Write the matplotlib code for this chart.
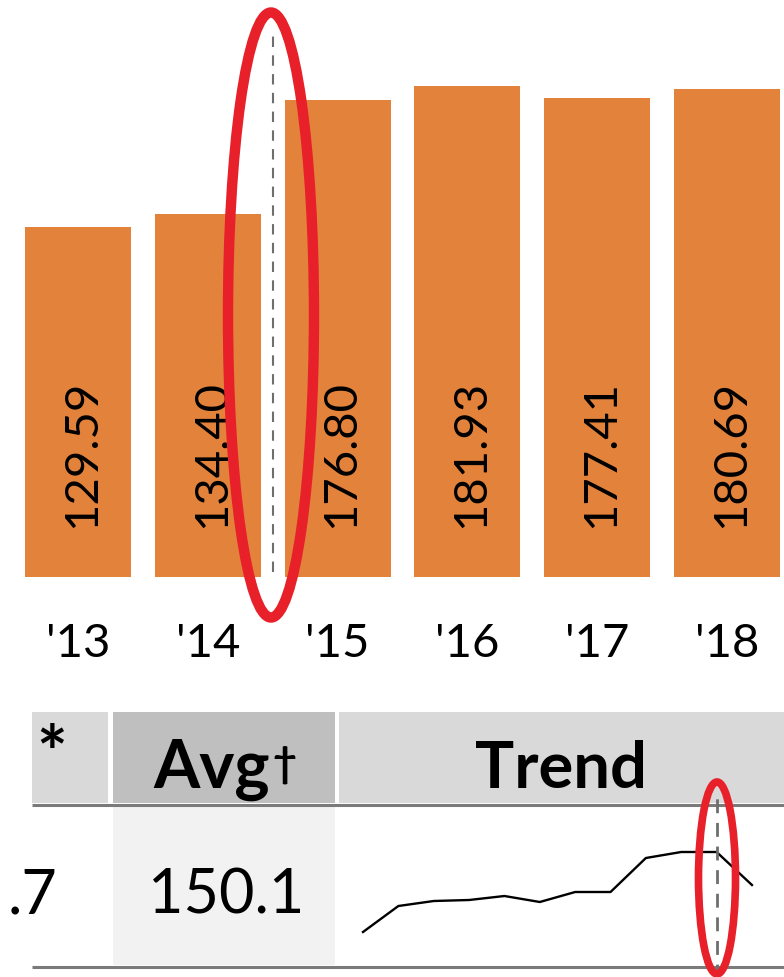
import matplotlib
matplotlib.use("Agg")
import matplotlib.pyplot as plt
from matplotlib.patches import Rectangle, Ellipse
from matplotlib.transforms import blended_transform_factory
import numpy as np

plt.rcParams['font.family'] = ['Lato', 'DejaVu Sans']

# --- data ---
years = ["'13", "'14", "'15", "'16", "'17", "'18"]
values = [129.59, 134.40, 176.80, 181.93, 177.41, 180.69]
marker_x = 1.5          # dashed divider between '14 and '15

avg_label = "150.1"
prev_col_label = ".7"
trend = [33, 59, 64, 65, 69, 63, 73, 73, 107, 113, 113, 80]
trend_marker = 10

BAR_COLOR = '#E3823B'
W, H = 784, 977

def fx(px):
    return px / W

def fy(py):
    return 1 - py / H

fig = plt.figure(figsize=(W / 100, H / 100), dpi=100)

# background / table layer in pixel coords
bg = fig.add_axes([0, 0, 1, 1], zorder=0)
bg.set_xlim(0, W)
bg.set_ylim(H, 0)
bg.axis('off')

# header cells
bg.add_patch(Rectangle((32, 712), 76, 91, color='#d9d9d9', lw=0))
bg.add_patch(Rectangle((113, 712), 222, 91, color='#bfbfbf', lw=0))
bg.add_patch(Rectangle((339, 712), 445, 91, color='#d9d9d9', lw=0))
# body avg cell
bg.add_patch(Rectangle((113, 807), 222, 158, color='#f2f2f2', lw=0))
bg.plot([32, 784], [805, 805], color='#7a7a7a', lw=2.2, solid_capstyle='butt')
bg.plot([32, 784], [967, 967], color='#7a7a7a', lw=2.2, solid_capstyle='butt')

bg.text(36, 779, "*", fontsize=52, fontweight='bold', ha='left', va='baseline')
bg.text(212, 788, "Avg", fontsize=48, fontweight='bold', ha='center', va='baseline')
# small dagger right after "Avg"
bg.text(272, 776, "\u2020", fontsize=30, fontweight='bold', ha='left', va='baseline')
bg.text(561, 788, "Trend", fontsize=47, fontweight='bold', ha='center', va='baseline')
bg.text(226, 913, avg_label, fontsize=44, ha='center', va='baseline')
bg.text(57, 913, prev_col_label, fontsize=44, ha='right', va='baseline')

# --- bar chart ---
ax = fig.add_axes([0, fy(577), 1, 577 / H], zorder=1)
ax.patch.set_alpha(0)
x = np.arange(len(values))
ax.bar(x, values, width=0.817, color=BAR_COLOR)
ax.set_xlim(-0.601, 5.439)
ax.set_ylim(0, 577 / 2.7)
ax.axis('off')

for xi, v in zip(x, values):
    ax.text(xi, 18.1, f"{v:.2f}", rotation=90, rotation_mode='anchor',
            ha='left', va='center_baseline', fontsize=34)

trans = blended_transform_factory(ax.transData, fig.transFigure)
for xi, lab in zip(x, years):
    ax.text(xi, fy(657), lab, transform=trans, ha='center', va='baseline',
            fontsize=34)

ax.plot([marker_x, marker_x], [2, 203], color='#6e6e6e', lw=1.5,
        linestyle=(0, (5, 4)))

# --- sparkline ---
sp = fig.add_axes([fx(339), fy(965), fx(784) - fx(339), (965 - 808) / H], zorder=2)
sp.patch.set_alpha(0)
sp.plot(np.arange(len(trend)), trend, color='black', lw=1.7)
sp.set_xlim(-0.679, 11.906)
sp.set_ylim(0, 157)
sp.axis('off')
sp.axvline(trend_marker, ymin=-0.08, ymax=1.064, color='#6e6e6e', lw=2,
           linestyle=(0, (5, 3.5)), clip_on=False)

# --- red highlight ellipses ---
ov = fig.add_axes([0, 0, 1, 1], zorder=3)
ov.patch.set_alpha(0)
ov.set_xlim(0, W)
ov.set_ylim(H, 0)
ov.axis('off')
ov.add_patch(Ellipse((271, 315), 86, 605, fill=False, edgecolor='#e8202a', lw=7.5))
ov.add_patch(Ellipse((717, 878), 37, 192, fill=False, edgecolor='#e8202a', lw=5.5))

fig.savefig('out.png', dpi=100)
